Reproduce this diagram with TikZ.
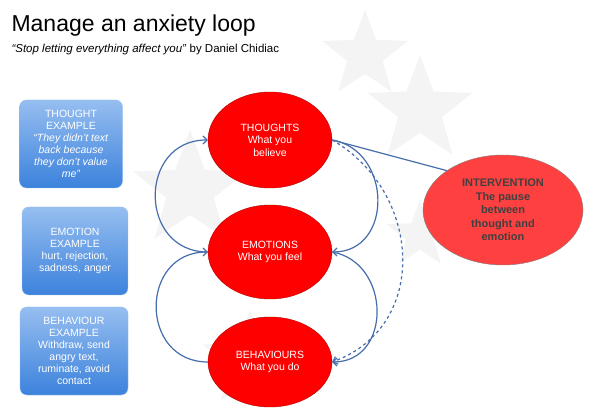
\documentclass[tikz,border=0pt]{standalone}
\usepackage{fontspec}
\setmainfont{Liberation Sans}
\usetikzlibrary{shapes.geometric,arrows.meta}
\definecolor{lnk}{RGB}{70,110,170}
\definecolor{btop}{RGB}{150,190,240}
\definecolor{bbot}{RGB}{60,130,220}
\begin{document}
\begin{tikzpicture}[x=1pt,y=-1pt,
  oval/.style={ellipse,draw=red!70!black,fill=red,text=white,font=\fontsize{10.5}{12.5}\selectfont,align=center,inner sep=0pt},
  box/.style={rounded corners=7pt,draw=btop,top color=btop,bottom color=bbot,text=white,font=\fontsize{10.5}{12}\selectfont,align=center,inner sep=2pt},
  conn/.style={draw=lnk,line width=1.2pt,-{Straight Barb[length=4pt]}},
  bgstar/.style={star,star points=5,star point ratio=2.4,fill=gray!9,draw=none,inner sep=0pt}]
\useasboundingbox (0,0) rectangle (602,419);
\fill[white] (0,0) rectangle (602,419);
\node[bgstar,minimum size=120pt] (s1) at (190,190) {};
\node[bgstar,minimum size=110pt] (s2) at (420,110) {};
\node[bgstar,minimum size=90pt] (s3) at (365,55) {};
\node[bgstar,minimum size=100pt] (s4) at (250,360) {};
\node[bgstar,minimum size=70pt] (s5) at (420,235) {};
\node[anchor=base west,font=\fontsize{23}{26}\selectfont] (title) at (8,32) {Manage an anxiety loop};
\node[anchor=base west,font=\fontsize{11.5}{13}\selectfont] (sub) at (8,53) {\textit{``Stop letting everything affect you''} by Daniel Chidiac};
\node[oval,minimum width=124pt,minimum height=96pt] (th) at (270,140) {THOUGHTS\\What you\\believe};
\node[oval,minimum width=124pt,minimum height=94pt] (em) at (270,252) {EMOTIONS\\What you feel};
\node[oval,minimum width=124pt,minimum height=90pt] (be) at (270,362) {BEHAVIOURS\\What you do};
\node[ellipse,draw=gray,fill=red!75,text=black!75,font=\bfseries\fontsize{11}{13.5}\selectfont,align=center,minimum width=160pt,minimum height=110pt,inner sep=0pt] (iv) at (503,210) {INTERVENTION\\The pause\\between\\thought and\\emotion};
\node[box,minimum width=103pt,minimum height=88pt] (b1) at (71,144) {THOUGHT\\EXAMPLE\\\textit{``They didn't text}\\\textit{back because}\\\textit{they don't value}\\\textit{me''}};
\node[box,minimum width=106pt,minimum height=88pt] (b2) at (75,251) {EMOTION\\EXAMPLE\\hurt, rejection,\\sadness, anger};
\node[box,minimum width=108pt,minimum height=88pt] (b3) at (74,351) {BEHAVIOUR\\EXAMPLE\\Withdraw, send\\angry text,\\ruminate, avoid\\contact};
\draw[conn] (be.west) to[out=180,in=180,looseness=1.6] (em.west);
\draw[conn] (em.west) to[out=180,in=180,looseness=1.6] (th.west);
\draw[conn] (th.east) to[out=-10,in=0,looseness=1.4] (em.east);
\draw[conn] (em.east) to[out=-10,in=0,looseness=1.4] (be.east);
\draw[conn,dashed] (th.east) to[out=-30,in=20,looseness=1.2] (be.east);
\draw[draw=lnk,line width=1.2pt] (th.east) -- (iv.145);
\end{tikzpicture}
\end{document}
